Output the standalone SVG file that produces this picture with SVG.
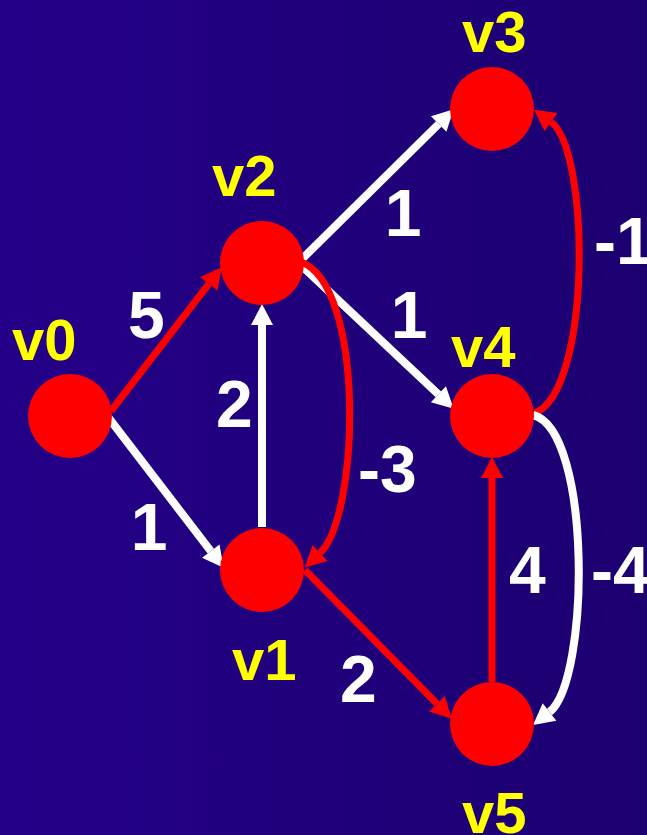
<svg xmlns="http://www.w3.org/2000/svg" width="647" height="835" viewBox="0 0 647 835">
<defs>
<linearGradient id="bg" x1="0" y1="0" x2="1" y2="0">
<stop offset="0" stop-color="#240088"/>
<stop offset="1" stop-color="#1c0070"/>
</linearGradient>
<marker id="aw" markerUnits="userSpaceOnUse" markerWidth="24" markerHeight="24" viewBox="0 -12 22 24" refX="0" refY="0" orient="auto">
<path d="M0,-11 L21,0 L0,11 Z" fill="#ffffff"/>
</marker>
<marker id="ar" markerUnits="userSpaceOnUse" markerWidth="24" markerHeight="24" viewBox="0 -12 22 24" refX="0" refY="0" orient="auto">
<path d="M0,-11 L21,0 L0,11 Z" fill="#ff0000"/>
</marker>
</defs>
<style>
.node{fill:#ff0000}
.lbl{font-family:"Liberation Sans",Arial,sans-serif;font-weight:bold;font-size:58px;fill:#ffff00}
.w{font-family:"Liberation Sans",Arial,sans-serif;font-weight:bold;font-size:66px;fill:#ffffff}
.ew{fill:none;stroke:#ffffff;stroke-width:8}
.er{fill:none;stroke:#ff0000;stroke-width:7}
</style>
<rect x="0" y="0" width="647" height="835" fill="url(#bg)"/>
<g id="connectors">
<path class="er" d="M111,411 L208.8,283.9" marker-end="url(#ar)"/>
<path class="ew" d="M108,417 L210.8,551.1" marker-end="url(#aw)"/>
<path class="ew" d="M262,527 L262,325" marker-end="url(#aw)"/>
<path class="ew" d="M300,261 L438.7,124" marker-end="url(#aw)"/>
<path class="ew" d="M303,267 L438.4,394.3" marker-end="url(#aw)"/>
<path class="er" d="M301,262 C365,285 360,515 320,553" stroke-width="8" marker-end="url(#ar)"/>
<path class="er" d="M305,570 L437,703.8" marker-end="url(#ar)"/>
<path class="er" d="M492,682 L492,478" stroke-width="8" marker-end="url(#ar)"/>
<path class="er" d="M535,413 C592,390 590,150 551,122" stroke-width="8" marker-end="url(#ar)"/>
<path class="ew" d="M533,415 C592,430 590,680 549.5,712" stroke-width="7" marker-end="url(#aw)"/>
</g>
<g id="v0"><circle class="node" cx="70" cy="416" r="42"/><text class="lbl" x="12" y="360">v0</text></g>
<g id="v1"><circle class="node" cx="262" cy="570" r="42"/><text class="lbl" x="232" y="680">v1</text></g>
<g id="v2"><circle class="node" cx="262" cy="263" r="42"/><text class="lbl" x="212" y="196">v2</text></g>
<g id="v3"><circle class="node" cx="492" cy="109" r="42"/><text class="lbl" x="462" y="52">v3</text></g>
<g id="v4"><circle class="node" cx="492" cy="416" r="42"/><text class="lbl" x="451" y="367">v4</text></g>
<g id="v5"><circle class="node" cx="492" cy="724" r="42"/><text class="lbl" x="462" y="833">v5</text></g>
<g id="weights">
<text class="w" x="128" y="338">5</text>
<text class="w" x="216" y="427">2</text>
<text class="w" x="149" y="550" text-anchor="middle">1</text>
<text class="w" x="403" y="236" text-anchor="middle">1</text>
<text class="w" x="409" y="338" text-anchor="middle">1</text>
<text class="w" x="358" y="492">-3</text>
<text class="w" x="594" y="264">-1</text>
<text class="w" x="509" y="593">4</text>
<text class="w" x="591" y="593">-4</text>
<text class="w" x="340" y="702">2</text>
</g>
</svg>
